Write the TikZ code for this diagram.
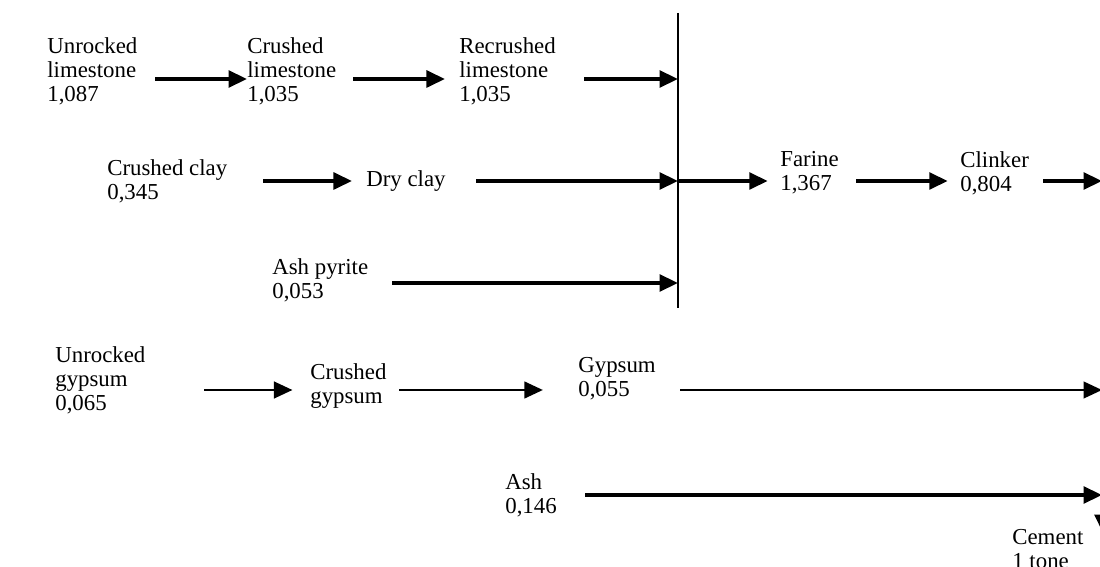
\documentclass[tikz,border=0pt]{standalone}
\usepackage{fontspec}
\setmainfont{Liberation Serif}
\usepackage{tikz}
\usetikzlibrary{arrows.meta}

\begin{document}
\begin{tikzpicture}[x=0.02cm, y=-0.02cm,
		txt/.style={anchor=west, align=left, inner sep=0pt, font=\fontsize{13}{13.6}\selectfont},
		flow/.style={-{Triangle[length=10.5pt, width=9.5pt]}, line width=2pt},
		thinflow/.style={-{Triangle[length=10.5pt, width=9.5pt]}, line width=1.2pt}]
				\useasboundingbox (0,0) rectangle (1100,567);
				
				\coordinate (r1) at (0,79);
				\coordinate (r2) at (0,181);
				\coordinate (r3) at (0,283);
				\coordinate (r4) at (0,390);
				\coordinate (r5) at (0,495);
				\coordinate (bartop) at (678,13);
				\coordinate (barbot) at (678,308);
				\coordinate (cemcol) at (1102,0);
				\coordinate (cemin) at (1103,533);
				
				\node[txt] (ulime) at (47,71) {Unrocked\\limestone\\1,087};
				\node[txt] (clime) at (247,71) {Crushed\\limestone\\1,035};
				\node[txt] (rlime) at (459,71) {Recrushed\\limestone\\1,035};
				
				\node[txt] (cclay) at (107,181) {Crushed clay\\0,345};
				\node[txt] (dclay) at (366,181) {Dry clay};
				
				\node[txt] (farine) at (780,173) {Farine\\1,367};
				\node[txt] (clinker) at (960,173) {Clinker\\0,804};
				
				\node[txt] (ashpyr) at (272,280) {Ash pyrite\\0,053};
				
				\node[txt] (ugyps) at (55,380) {Unrocked\\gypsum\\0,065};
				\node[txt] (cgyps) at (310,386) {Crushed\\gypsum};
				\node[txt] (gyps) at (578,379) {Gypsum\\0,055};
				
				\node[txt] (ash) at (505,495) {Ash\\0,146};
				\node[txt] (cement) at (1012,549) {Cement\\1 tone};
				
				\draw[line width=1.1pt] (bartop) -- (barbot);
				
				\draw[flow] (ulime.west |- r1) ++(108,0) -- (clime.west |- r1);
				\draw[flow, shorten >=8pt] (clime.west |- r1) ++(106,0) -- (rlime.west |- r1);
				\draw[flow] (rlime.west |- r1) ++(125,0) -- (bartop |- r1);
				
				\draw[flow, shorten >=8pt] (cclay.west |- r2) ++(156,0) -- (dclay.west |- r2);
				\draw[flow] (dclay.west |- r2) ++(110,0) -- (bartop |- r2);
				\draw[flow, shorten >=7pt] (bartop |- r2) -- (farine.west |- r2);
				\draw[flow, shorten >=7pt] (farine.west |- r2) ++(76,0) -- (clinker.west |- r2);
				\draw[flow] (clinker.west |- r2) ++(83,0) -- (cemcol |- r2);
				
				\draw[flow] (ashpyr.west |- r3) ++(120,0) -- (bartop |- r3);
				
				\draw[thinflow, shorten >=10pt] (ugyps.west |- r4) ++(149,0) -- (cgyps.west |- r4);
				\draw[thinflow, shorten >=20pt] (cgyps.west |- r4) ++(89,0) -- (gyps.west |- r4);
				\draw[thinflow] (gyps.west |- r4) ++(102,0) -- (cemcol |- r4);
				
				\draw[flow] (ash.west |- r5) ++(80,0) -- (cemcol |- r5);
				
				\draw[flow] (cemin) ++(0,-30) -- (cemin);
			\end{tikzpicture}
\end{document}
